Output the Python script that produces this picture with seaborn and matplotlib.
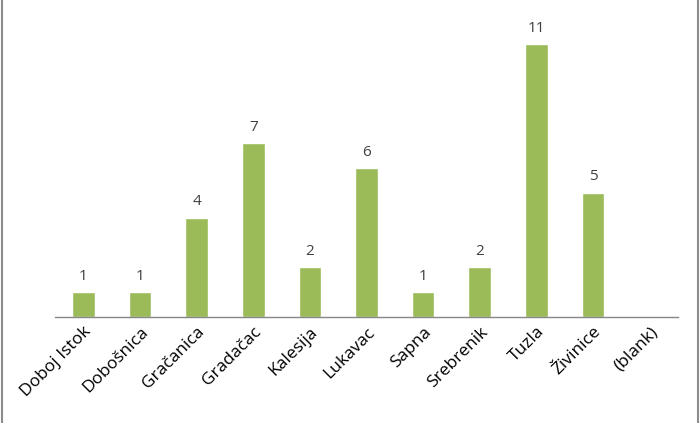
import matplotlib.pyplot as plt
import pandas as pd
import seaborn as sns
from matplotlib.lines import Line2D

municipalities = ["Doboj Istok", "Dobošnica", "Gračanica", "Gradačac", "Kalesija",
                  "Lukavac", "Sapna", "Srebrenik", "Tuzla", "Živinice", "(blank)"]
counts = [1, 1, 4, 7, 2, 6, 1, 2, 11, 5, 0]

df = pd.DataFrame({"municipality": municipalities, "count": counts})

sns.set_style("white")
plt.rcParams["font.family"] = ["Open Sans", "DejaVu Sans"]

fig = plt.figure(figsize=(7, 4.23), dpi=100)
ax = fig.add_axes([55 / 700, 106 / 423, 623 / 700, 310 / 423])

sns.barplot(df, x="municipality", y="count", color="#9BBB59", saturation=1,
            width=0.4, ax=ax)

for i, v in enumerate(counts):
    if v > 0:
        ax.text(i, v + 0.35, str(v), ha="center", va="bottom", fontsize=11, color="#404040")

ax.set_ylim(0, 12.5)
ax.set_xlim(-0.5, len(municipalities) - 0.5)
ax.set_yticks([])
ax.set_xlabel("")
ax.set_ylabel("")
for side in ["top", "right", "left"]:
    ax.spines[side].set_visible(False)
ax.spines["bottom"].set_color("#868686")
ax.spines["bottom"].set_linewidth(1)
ax.tick_params(axis="x", length=0, pad=5)
plt.setp(ax.get_xticklabels(), rotation=45, ha="right", rotation_mode="anchor",
         fontsize=12.5, color="#000000")

# chart frame edges
fig.add_artist(Line2D([2 / 700, 2 / 700], [0, 1], color="#8c8c8c", lw=1.5))
fig.add_artist(Line2D([698 / 700, 698 / 700], [0, 1], color="#8c8c8c", lw=1.5))

fig.savefig("out.png", dpi=100)
